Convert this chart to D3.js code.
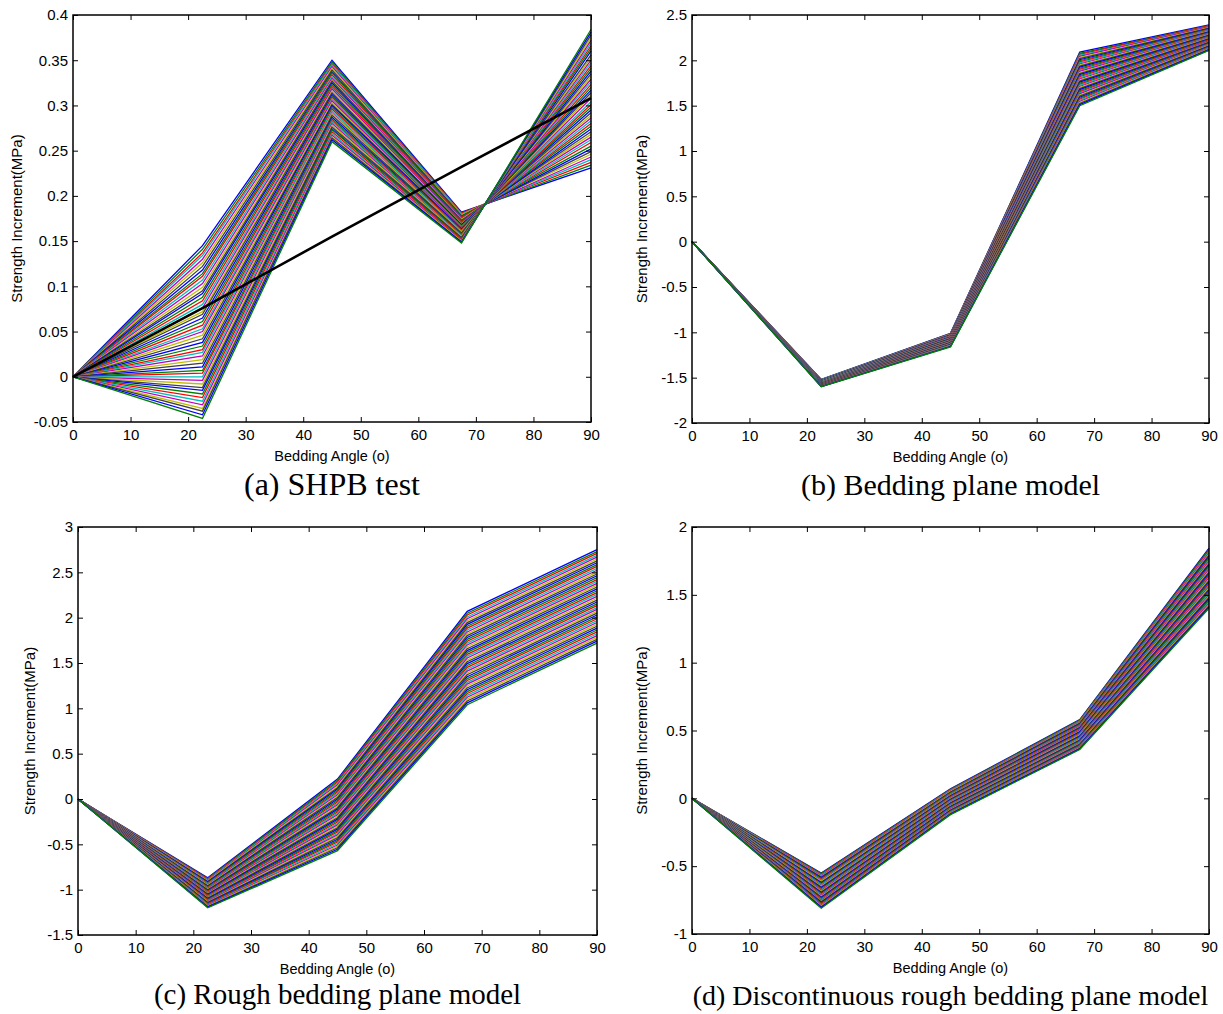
<!DOCTYPE html>
<html>
<head>
<meta charset="utf-8">
<script src="https://cdn.jsdelivr.net/npm/d3@7"></script>
<style>
  body { margin: 0; background: #fff; }
  svg text { font-family: Arial, "Liberation Sans", Helvetica, sans-serif; fill: #000; }
  svg text.caption { font-family: "Times New Roman", "Liberation Serif", serif; }
</style>
</head>
<body>
<script>
'use strict';

// bedding angles where every curve is sampled
const angles = [0, 22.5, 45, 67.5, 90]
const xTicks = [0, 10, 20, 30, 40, 50, 60, 70, 80, 90]

// MATLAB classic line colour order
const lineColors = ['#0000ff', '#008000', '#ff0000', '#00bfbf', '#bf00bf', '#bfbf00', '#404040']

// (a) SHPB test, one value per curve at each angle (value at 0 deg is 0)
const shpbAt22 = [0.145, 0.141, 0.137, 0.134, 0.130, 0.126, 0.122, 0.118, 0.114, 0.111, 0.107, 0.103, 0.099, 0.095, 0.092, 0.088, 0.084, 0.080, 0.076, 0.072, 0.069, 0.065, 0.061, 0.057, 0.053, 0.050, 0.046, 0.042, 0.038, 0.034, 0.030, 0.027, 0.023, 0.019, 0.015, 0.011, 0.007, 0.004, 0.000, -0.004, -0.008, -0.012, -0.015, -0.019, -0.023, -0.027, -0.031, -0.035, -0.038, -0.042, -0.046]
const shpbAt45 = [0.350, 0.348, 0.346, 0.345, 0.343, 0.341, 0.339, 0.337, 0.336, 0.334, 0.332, 0.330, 0.328, 0.327, 0.325, 0.323, 0.321, 0.319, 0.318, 0.316, 0.314, 0.312, 0.310, 0.309, 0.307, 0.305, 0.303, 0.301, 0.300, 0.298, 0.296, 0.294, 0.292, 0.291, 0.289, 0.287, 0.285, 0.283, 0.282, 0.280, 0.278, 0.276, 0.274, 0.273, 0.271, 0.269, 0.267, 0.265, 0.264, 0.262, 0.260]
const shpbAt67 = [0.182, 0.181, 0.181, 0.180, 0.179, 0.179, 0.178, 0.177, 0.177, 0.176, 0.175, 0.175, 0.174, 0.173, 0.172, 0.172, 0.171, 0.170, 0.170, 0.169, 0.168, 0.168, 0.167, 0.166, 0.166, 0.165, 0.164, 0.164, 0.163, 0.162, 0.162, 0.161, 0.160, 0.160, 0.159, 0.158, 0.158, 0.157, 0.156, 0.155, 0.155, 0.154, 0.153, 0.153, 0.152, 0.151, 0.151, 0.150, 0.149, 0.149, 0.148]
const shpbAt90 = [0.231, 0.234, 0.237, 0.240, 0.243, 0.246, 0.249, 0.252, 0.255, 0.259, 0.262, 0.265, 0.268, 0.271, 0.274, 0.277, 0.280, 0.283, 0.286, 0.289, 0.292, 0.295, 0.298, 0.301, 0.304, 0.308, 0.311, 0.314, 0.317, 0.320, 0.323, 0.326, 0.329, 0.332, 0.335, 0.338, 0.341, 0.344, 0.347, 0.350, 0.353, 0.356, 0.360, 0.363, 0.366, 0.369, 0.372, 0.375, 0.378, 0.381, 0.384]
const shpbTrend = [0, 0.076, 0.155, 0.232, 0.308]
const shpbYTicks = [-0.05, 0, 0.05, 0.1, 0.15, 0.2, 0.25, 0.3, 0.35, 0.4]

// (b) bedding plane model
const bedAt22 = [-1.520, -1.522, -1.523, -1.525, -1.526, -1.528, -1.530, -1.531, -1.533, -1.534, -1.536, -1.538, -1.539, -1.541, -1.542, -1.544, -1.546, -1.547, -1.549, -1.550, -1.552, -1.554, -1.555, -1.557, -1.558, -1.560, -1.562, -1.563, -1.565, -1.566, -1.568, -1.570, -1.571, -1.573, -1.574, -1.576, -1.578, -1.579, -1.581, -1.582, -1.584, -1.586, -1.587, -1.589, -1.590, -1.592, -1.594, -1.595, -1.597, -1.598, -1.600]
const bedAt45 = [-1.010, -1.013, -1.016, -1.019, -1.022, -1.025, -1.028, -1.031, -1.034, -1.037, -1.040, -1.043, -1.046, -1.049, -1.052, -1.055, -1.058, -1.061, -1.064, -1.067, -1.070, -1.073, -1.076, -1.079, -1.082, -1.085, -1.088, -1.091, -1.094, -1.097, -1.100, -1.103, -1.106, -1.109, -1.112, -1.115, -1.118, -1.121, -1.124, -1.127, -1.130, -1.133, -1.136, -1.139, -1.142, -1.145, -1.148, -1.151, -1.154, -1.157, -1.160]
const bedAt67 = [2.090, 2.078, 2.066, 2.055, 2.043, 2.031, 2.019, 2.007, 1.996, 1.984, 1.972, 1.960, 1.948, 1.937, 1.925, 1.913, 1.901, 1.889, 1.878, 1.866, 1.854, 1.842, 1.830, 1.819, 1.807, 1.795, 1.783, 1.771, 1.760, 1.748, 1.736, 1.724, 1.712, 1.701, 1.689, 1.677, 1.665, 1.653, 1.642, 1.630, 1.618, 1.606, 1.594, 1.583, 1.571, 1.559, 1.547, 1.535, 1.524, 1.512, 1.500]
const bedAt90 = [2.390, 2.384, 2.379, 2.373, 2.368, 2.362, 2.356, 2.351, 2.345, 2.340, 2.334, 2.328, 2.323, 2.317, 2.312, 2.306, 2.300, 2.295, 2.289, 2.284, 2.278, 2.272, 2.267, 2.261, 2.256, 2.250, 2.244, 2.239, 2.233, 2.228, 2.222, 2.216, 2.211, 2.205, 2.200, 2.194, 2.188, 2.183, 2.177, 2.172, 2.166, 2.160, 2.155, 2.149, 2.144, 2.138, 2.132, 2.127, 2.121, 2.116, 2.110]
const bedYTicks = [-2, -1.5, -1, -0.5, 0, 0.5, 1, 1.5, 2, 2.5]

// (c) rough bedding plane model
const roughAt22 = [-0.870, -0.877, -0.883, -0.890, -0.896, -0.903, -0.910, -0.916, -0.923, -0.929, -0.936, -0.943, -0.949, -0.956, -0.962, -0.969, -0.976, -0.982, -0.989, -0.995, -1.002, -1.009, -1.015, -1.022, -1.028, -1.035, -1.042, -1.048, -1.055, -1.061, -1.068, -1.075, -1.081, -1.088, -1.094, -1.101, -1.108, -1.114, -1.121, -1.127, -1.134, -1.141, -1.147, -1.154, -1.160, -1.167, -1.174, -1.180, -1.187, -1.193, -1.200]
const roughAt45 = [0.220, 0.204, 0.188, 0.173, 0.157, 0.141, 0.125, 0.109, 0.094, 0.078, 0.062, 0.046, 0.030, 0.015, -0.001, -0.017, -0.033, -0.049, -0.064, -0.080, -0.096, -0.112, -0.128, -0.143, -0.159, -0.175, -0.191, -0.207, -0.222, -0.238, -0.254, -0.270, -0.286, -0.301, -0.317, -0.333, -0.349, -0.365, -0.380, -0.396, -0.412, -0.428, -0.444, -0.459, -0.475, -0.491, -0.507, -0.523, -0.538, -0.554, -0.570]
const roughAt67 = [2.070, 2.049, 2.029, 2.008, 1.988, 1.967, 1.946, 1.926, 1.905, 1.885, 1.864, 1.843, 1.823, 1.802, 1.782, 1.761, 1.740, 1.720, 1.699, 1.679, 1.658, 1.637, 1.617, 1.596, 1.576, 1.555, 1.534, 1.514, 1.493, 1.473, 1.452, 1.431, 1.411, 1.390, 1.370, 1.349, 1.328, 1.308, 1.287, 1.267, 1.246, 1.225, 1.205, 1.184, 1.164, 1.143, 1.122, 1.102, 1.081, 1.061, 1.040]
const roughAt90 = [2.750, 2.729, 2.709, 2.688, 2.668, 2.647, 2.626, 2.606, 2.585, 2.565, 2.544, 2.523, 2.503, 2.482, 2.462, 2.441, 2.420, 2.400, 2.379, 2.359, 2.338, 2.317, 2.297, 2.276, 2.256, 2.235, 2.214, 2.194, 2.173, 2.153, 2.132, 2.111, 2.091, 2.070, 2.050, 2.029, 2.008, 1.988, 1.967, 1.947, 1.926, 1.905, 1.885, 1.864, 1.844, 1.823, 1.802, 1.782, 1.761, 1.741, 1.720]
const roughYTicks = [-1.5, -1, -0.5, 0, 0.5, 1, 1.5, 2, 2.5, 3]

// (d) discontinuous rough bedding plane model
const discAt22 = [-0.550, -0.555, -0.560, -0.566, -0.571, -0.576, -0.581, -0.586, -0.592, -0.597, -0.602, -0.607, -0.612, -0.618, -0.623, -0.628, -0.633, -0.638, -0.644, -0.649, -0.654, -0.659, -0.664, -0.670, -0.675, -0.680, -0.685, -0.690, -0.696, -0.701, -0.706, -0.711, -0.716, -0.722, -0.727, -0.732, -0.737, -0.742, -0.748, -0.753, -0.758, -0.763, -0.768, -0.774, -0.779, -0.784, -0.789, -0.794, -0.800, -0.805, -0.810]
const discAt45 = [0.070, 0.066, 0.062, 0.059, 0.055, 0.051, 0.047, 0.043, 0.040, 0.036, 0.032, 0.028, 0.024, 0.021, 0.017, 0.013, 0.009, 0.005, 0.002, -0.002, -0.006, -0.010, -0.014, -0.017, -0.021, -0.025, -0.029, -0.033, -0.036, -0.040, -0.044, -0.048, -0.052, -0.055, -0.059, -0.063, -0.067, -0.071, -0.074, -0.078, -0.082, -0.086, -0.090, -0.093, -0.097, -0.101, -0.105, -0.109, -0.112, -0.116, -0.120]
const discAt67 = [0.580, 0.576, 0.571, 0.567, 0.562, 0.558, 0.554, 0.549, 0.545, 0.540, 0.536, 0.532, 0.527, 0.523, 0.518, 0.514, 0.510, 0.505, 0.501, 0.496, 0.492, 0.488, 0.483, 0.479, 0.474, 0.470, 0.466, 0.461, 0.457, 0.452, 0.448, 0.444, 0.439, 0.435, 0.430, 0.426, 0.422, 0.417, 0.413, 0.408, 0.404, 0.400, 0.395, 0.391, 0.386, 0.382, 0.378, 0.373, 0.369, 0.364, 0.360]
const discAt90 = [1.845, 1.836, 1.827, 1.818, 1.809, 1.800, 1.792, 1.783, 1.774, 1.765, 1.756, 1.747, 1.738, 1.729, 1.720, 1.711, 1.703, 1.694, 1.685, 1.676, 1.667, 1.658, 1.649, 1.640, 1.631, 1.623, 1.614, 1.605, 1.596, 1.587, 1.578, 1.569, 1.560, 1.551, 1.542, 1.533, 1.525, 1.516, 1.507, 1.498, 1.489, 1.480, 1.471, 1.462, 1.453, 1.445, 1.436, 1.427, 1.418, 1.409, 1.400]
const discYTicks = [-1, -0.5, 0, 0.5, 1, 1.5, 2]

const captions = ['(a) SHPB test', '(b) Bedding plane model', '(c) Rough bedding plane model', '(d) Discontinuous rough bedding plane model']

const m = {
  width: 1223,
  height: 1014,
  tick: 5
}

const svg = d3.select('body')
  .append('svg')
  .attr('width', m.width)
  .attr('height', m.height)

const panels = [
  { box: {left: 73, top: 15, right: 591, bottom: 422}, cols: [shpbAt22, shpbAt45, shpbAt67, shpbAt90],
    yTicks: shpbYTicks, yLabelX: 17, caption: captions[0], capY: 495, capSize: 32, trend: shpbTrend },
  { box: {left: 692, top: 15, right: 1209, bottom: 423}, cols: [bedAt22, bedAt45, bedAt67, bedAt90],
    yTicks: bedYTicks, yLabelX: 642, caption: captions[1], capY: 495, capSize: 30 },
  { box: {left: 78, top: 527, right: 597, bottom: 935}, cols: [roughAt22, roughAt45, roughAt67, roughAt90],
    yTicks: roughYTicks, yLabelX: 30, caption: captions[2], capY: 1004, capSize: 29 },
  { box: {left: 692, top: 527, right: 1209, bottom: 934}, cols: [discAt22, discAt45, discAt67, discAt90],
    yTicks: discYTicks, yLabelX: 642, caption: captions[3], capY: 1005, capSize: 28 }
]

panels.forEach(drawPanel)

function drawPanel(p) {
  const b = p.box
  const x = d3.scaleLinear().domain([0, 90]).range([b.left, b.right])
  const y = d3.scaleLinear().domain(d3.extent(p.yTicks)).range([b.bottom, b.top])

  // each curve starts at 0 for a bedding angle of 0
  const curves = p.cols[0].map((v, i) => [0].concat(p.cols.map(c => c[i])))

  const line = d3.line()
    .x((d, i) => x(angles[i]))
    .y(d => y(d))

  const g = svg.append('g')

  g.selectAll('.curve')
    .data(curves)
    .enter().append('path')
      .attr('class', 'curve')
      .attr('d', line)
      .style('fill', 'none')
      .style('stroke', (d, i) => lineColors[i % lineColors.length])
      .style('stroke-width', 1.3)

  if (p.trend) {
    g.append('path')
      .attr('d', line(p.trend))
      .style('fill', 'none')
      .style('stroke', '#000')
      .style('stroke-width', 2.6)
  }

  // axes with inward ticks on all four sides
  const bottomAxis = d3.axisBottom(x).tickValues(xTicks).tickSizeInner(-m.tick).tickSizeOuter(0).tickPadding(7)
  const leftAxis = d3.axisLeft(y).tickValues(p.yTicks).tickSizeInner(-m.tick).tickSizeOuter(0).tickPadding(5)
    .tickFormat(d => String(d))
  const topAxis = d3.axisTop(x).tickValues(xTicks).tickSizeInner(-m.tick).tickSizeOuter(0).tickFormat('')
  const rightAxis = d3.axisRight(y).tickValues(p.yTicks).tickSizeInner(-m.tick).tickSizeOuter(0).tickFormat('')

  const axes = [
    [bottomAxis, 'translate(0,' + b.bottom + ')'],
    [leftAxis, 'translate(' + b.left + ',0)'],
    [topAxis, 'translate(0,' + b.top + ')'],
    [rightAxis, 'translate(' + b.right + ',0)']
  ]
  axes.forEach(a => {
    const ax = g.append('g')
      .attr('transform', a[1])
      .style('font-size', '15px')
      .call(a[0])
    ax.select('.domain').remove()
    ax.selectAll('.tick line').style('stroke', '#000')
    ax.selectAll('text').style('font-family', 'Arial, "Liberation Sans", sans-serif').style('fill', '#000')
  })

  g.append('rect')
    .attr('x', b.left)
    .attr('y', b.top)
    .attr('width', b.right - b.left)
    .attr('height', b.bottom - b.top)
    .style('fill', 'none')
    .style('stroke', '#000')
    .style('stroke-width', 1.5)

  g.append('text')
    .attr('x', (b.left + b.right) / 2)
    .attr('y', b.bottom + 39)
    .style('text-anchor', 'middle')
    .style('font-size', '14.5px')
    .text('Bedding Angle (o)')

  g.append('text')
    .attr('transform', 'translate(' + p.yLabelX + ',' + (b.top + b.bottom) / 2 + ')rotate(-90)')
    .attr('dy', '0.35em')
    .style('text-anchor', 'middle')
    .style('font-size', '15px')
    .text('Strength Increment(MPa)')

  g.append('text')
    .attr('class', 'caption')
    .attr('x', (b.left + b.right) / 2)
    .attr('y', p.capY)
    .style('text-anchor', 'middle')
    .style('font-size', p.capSize + 'px')
    .text(p.caption)
}
</script>
</body>
</html>
